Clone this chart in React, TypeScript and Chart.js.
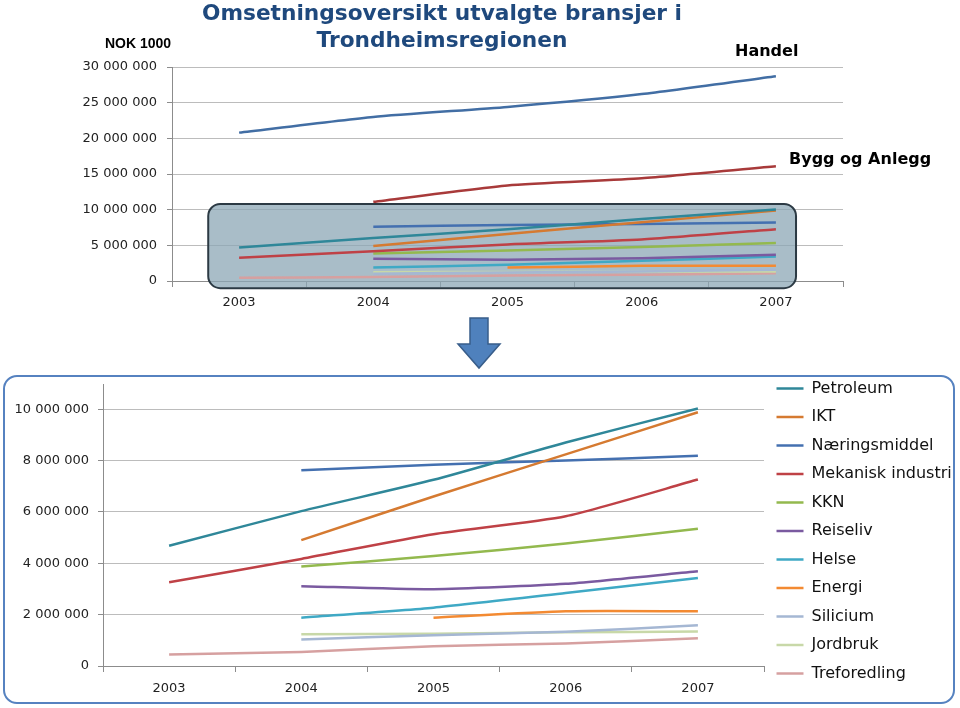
import React, { useEffect, useRef } from 'react';
import { Chart, registerables } from 'chart.js';

Chart.register(...registerables);

// ---- data (NOK 1000) ----
const years = ['2003', '2004', '2005', '2006', '2007'];

const handel = [20800000, 23000000, 24400000, 26200000, 28700000];
const byggOgAnlegg = [null, 11100000, 13400000, 14400000, 16100000];

const petroleum = [4680000, 6030000, 7250000, 8700000, 10030000];
const ikt = [null, 4900000, 6600000, 8240000, 9880000];
const naeringsmiddel = [null, 7620000, 7840000, 8000000, 8190000];
const mekaniskIndustri = [3260000, 4170000, 5130000, 5830000, 7260000];
const kkn = [null, 3870000, 4280000, 4770000, 5340000];
const reiseliv = [null, 3110000, 2990000, 3200000, 3690000];
const helse = [null, 1880000, 2270000, 2840000, 3430000];
const energi = [null, null, 1880000, 2130000, 2130000];
const silicium = [null, 1030000, 1200000, 1330000, 1590000];
const jordbruk = [null, 1240000, 1260000, 1310000, 1340000];
const treforedling = [450000, 550000, 770000, 880000, 1080000];

const branchNames = [
  'Petroleum', 'IKT', 'Næringsmiddel', 'Mekanisk industri', 'KKN', 'Reiseliv',
  'Helse', 'Energi', 'Silicium', 'Jordbruk', 'Treforedling',
];
const branchValues = [
  petroleum, ikt, naeringsmiddel, mekaniskIndustri, kkn, reiseliv,
  helse, energi, silicium, jordbruk, treforedling,
];
const bigNames = ['Handel', 'Bygg og Anlegg'];
const bigValues = [handel, byggOgAnlegg];

const topTicks = [0, 5000000, 10000000, 15000000, 20000000, 25000000, 30000000];
const bottomTicks = [0, 2000000, 4000000, 6000000, 8000000, 10000000];
const topAxisMax = 30000000;
const bottomAxisMax = 10950000;

// ---- styles ----
const branchColors = [
  '#2f8799', '#d57a31', '#4470b0', '#bf4146', '#93b94e', '#7a5aa0',
  '#3fa9c5', '#f38a32', '#a5b7d3', '#c8d8a8', '#d6a0a0',
];
const bigColors = ['#426ea4', '#a83a3a'];

const FONT = 'DejaVu Sans';
const fmt = (v: any) => String(v).replace(/\B(?=(\d{3})+(?!\d))/g, ' ');

function mkDataset(label: string, data: any[], color: string) {
  return {
    label,
    data,
    borderColor: color,
    backgroundColor: color,
    borderWidth: 2.5,
    pointRadius: 0,
    pointHoverRadius: 0,
    tension: 0.2,
    fill: false,
  };
}

const zoomBoxPlugin = {
  id: 'zoomBox',
  beforeDatasetsDraw(chart: any) {
    const { ctx, scales } = chart;
    const x = scales.x;
    const y = scales.y;
    const cw = (x.right - x.left) / years.length;
    const left = x.getPixelForValue(0) - cw * 0.23;
    const right = x.getPixelForValue(years.length - 1) + cw * 0.15;
    const top = y.getPixelForValue(10800000);
    const bottom = y.getPixelForValue(-1000000);
    ctx.save();
    ctx.beginPath();
    ctx.roundRect(left, top, right - left, bottom - top, 12);
    ctx.fillStyle = 'rgba(140,167,181,0.75)';
    ctx.fill();
    ctx.lineWidth = 2;
    ctx.strokeStyle = '#2c3a44';
    ctx.stroke();
    ctx.restore();
  },
};

function TopChart() {
  const ref = useRef<HTMLCanvasElement>(null);
  useEffect(() => {
    const datasets = [
      ...bigNames.map((n, i) => mkDataset(n, bigValues[i], bigColors[i])),
      ...branchNames.map((n, i) => mkDataset(n, branchValues[i], branchColors[i])),
    ];
    const chart = new Chart(ref.current as HTMLCanvasElement, {
      type: 'line',
      data: { labels: years, datasets },
      plugins: [zoomBoxPlugin],
      options: {
        animation: false,
        responsive: false,
        maintainAspectRatio: false,
        layout: { padding: { top: 67, right: 117, left: 0, bottom: 0 } },
        plugins: { legend: { display: false }, tooltip: { enabled: false } },
        scales: {
          x: {
            offset: true,
            grid: { display: true, drawOnChartArea: false, drawTicks: true, tickLength: 6, color: '#8c8c8c', tickColor: '#8c8c8c', offset: true },
            border: { display: true, color: '#8c8c8c' },
            ticks: { font: { family: FONT, size: 13 }, color: '#222', padding: 8, maxRotation: 0 },
            afterFit: (s: any) => { s.height = 49; },
          },
          y: {
            min: 0,
            max: topAxisMax,
            afterBuildTicks: (s: any) => { s.ticks = topTicks.map((v) => ({ value: v })); },
            ticks: { callback: fmt, font: { family: FONT, size: 13 }, color: '#222', padding: 10 },
            grid: { color: '#bcbcbc', tickColor: '#8c8c8c', tickLength: 5 },
            border: { display: true, color: '#8c8c8c' },
            afterFit: (s: any) => { s.width = 172; },
          },
        },
      },
    } as any);
    return () => chart.destroy();
  }, []);
  return (
    <canvas
      ref={ref}
      width={960}
      height={330}
      style={{ position: 'absolute', left: 0, top: 0, width: 960, height: 330, display: 'block' }}
    />
  );
}

function BottomChart() {
  const ref = useRef<HTMLCanvasElement>(null);
  useEffect(() => {
    const datasets = branchNames.map((n, i) => mkDataset(n, branchValues[i], branchColors[i]));
    const chart = new Chart(ref.current as HTMLCanvasElement, {
      type: 'line',
      data: { labels: years, datasets },
      options: {
        animation: false,
        responsive: false,
        maintainAspectRatio: false,
        layout: { padding: { top: 0, right: 0, left: 0, bottom: 0 } },
        plugins: {
          tooltip: { enabled: false },
          title: { display: true, text: '', fullSize: false, padding: { top: 14, bottom: 0 }, font: { size: 1 } },
          legend: {
            position: 'right',
            align: 'start',
            maxWidth: 196,
            labels: {
              usePointStyle: true,
              pointStyle: 'line',
              pointStyleWidth: 27,
              font: { family: FONT, size: 16 },
              color: '#111',
              padding: 12.5,
            },
          },
        },
        scales: {
          x: {
            offset: true,
            grid: { display: true, drawOnChartArea: false, drawTicks: true, tickLength: 6, color: '#8c8c8c', tickColor: '#8c8c8c', offset: true },
            border: { display: true, color: '#8c8c8c' },
            ticks: { font: { family: FONT, size: 13 }, color: '#222', padding: 9, maxRotation: 0 },
            afterFit: (s: any) => { s.height = 40; },
          },
          y: {
            min: 0,
            max: bottomAxisMax,
            afterBuildTicks: (s: any) => { s.ticks = bottomTicks.map((v) => ({ value: v })); },
            ticks: { callback: fmt, font: { family: FONT, size: 13 }, color: '#222', padding: 9 },
            grid: { color: '#bcbcbc', tickColor: '#8c8c8c', tickLength: 5 },
            border: { display: true, color: '#8c8c8c' },
            afterFit: (s: any) => { s.width = 103; },
          },
        },
      },
    } as any);
    return () => chart.destroy();
  }, []);
  return (
    <canvas
      ref={ref}
      width={960}
      height={338}
      style={{ position: 'absolute', left: 0, top: 368, width: 960, height: 338, display: 'block' }}
    />
  );
}

export default function App() {
  return (
    <div style={{ position: 'absolute', left: 0, top: 0, width: 960, height: 708, background: '#fff', overflow: 'hidden', fontFamily: FONT }}>
      <div
        style={{
          position: 'absolute', left: 3, top: 375, width: 952, height: 329, boxSizing: 'border-box',
          border: '2px solid #5682c0', borderRadius: 14,
        }}
      />
      <TopChart />
      <BottomChart />
      <div
        style={{
          position: 'absolute', left: 0, top: -1, width: 884, textAlign: 'center',
          fontFamily: FONT, fontWeight: 'bold', fontSize: 21.7, lineHeight: '27px', color: '#1f497d',
        }}
      >
        <div>Omsetningsoversikt utvalgte bransjer i</div>
        <div>Trondheimsregionen</div>
      </div>
      <div style={{ position: 'absolute', left: 105, top: 35, fontFamily: 'Liberation Sans', fontWeight: 'bold', fontSize: 14, color: '#000' }}>
        NOK 1000
      </div>
      <div style={{ position: 'absolute', left: 735, top: 41, fontFamily: FONT, fontWeight: 'bold', fontSize: 16, color: '#000' }}>
        Handel
      </div>
      <div style={{ position: 'absolute', left: 789, top: 149, fontFamily: FONT, fontWeight: 'bold', fontSize: 16, color: '#000' }}>
        Bygg og Anlegg
      </div>
      <svg width={60} height={60} style={{ position: 'absolute', left: 449, top: 313 }}>
        <path d="M21 5 H39 V31 H51 L30 55 L9 31 H21 Z" fill="#4f81bd" stroke="#385d8a" strokeWidth={1.5} />
      </svg>
    </div>
  );
}
